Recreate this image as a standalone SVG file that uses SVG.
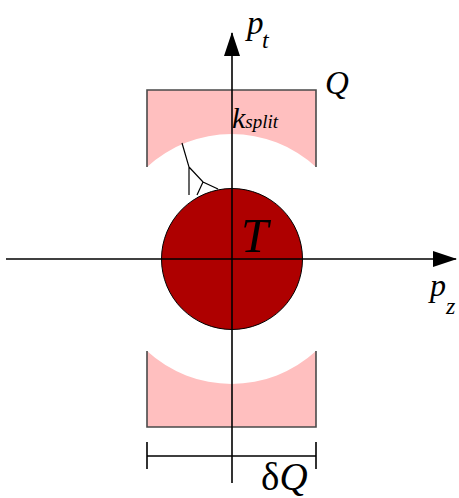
<svg xmlns="http://www.w3.org/2000/svg" width="459" height="498" viewBox="0 0 459 498">
<style>
.t{font-family:'Liberation Serif','DejaVu Serif','Noto Serif',serif;font-style:italic;fill:#000}
.u{font-family:'Liberation Serif','DejaVu Serif','Noto Serif',serif;fill:#000}
.ax{stroke:#000;stroke-width:1.6;fill:none}
.ol{stroke:#4a4a4a;stroke-width:1.6;fill:none}
.thin{stroke:#000;stroke-width:1.2;fill:none}
</style>
<defs>
<marker id="ah" markerWidth="24" markerHeight="16" refX="23" refY="8" orient="auto" markerUnits="userSpaceOnUse">
<path d="M0,0 L24,8 L0,16 Z" fill="#000"/>
</marker>
</defs>
<g id="Q">
<path d="M147,90 H316 V167 A125,125 0 0 0 147,167 Z" fill="#ffbfbf"/>
<path d="M147,427 H316 V351 A125,125 0 0 1 147,351 Z" fill="#ffbfbf"/>
<path class="ol" d="M147,167 V90 H316 V167"/>
<path class="ol" d="M147,351 V427 H316 V351"/>
<text class="t" x="325" y="94" font-size="33">Q</text>
</g>
<g id="T">
<circle cx="232" cy="259" r="70.5" fill="#ae0000" stroke="#000" stroke-width="1"/>
<text class="t" x="241" y="252" font-size="49">T</text>
</g>
<g id="ksplit">
<text class="t" x="232" y="128" font-size="30">k<tspan font-size="19">split</tspan></text>
<path class="thin" d="M182,143 L189,167 L189,195 M189,167 L203,182 L218,189 M203,182 L197,195"/>
</g>
<g id="connectors">
<line class="ax" x1="6" y1="259" x2="456" y2="259" marker-end="url(#ah)"/>
<line class="ax" x1="232" y1="483" x2="232" y2="33" marker-end="url(#ah)"/>
<path class="ax" d="M147,442 V469 M316,442 V469 M147,456 H316"/>
</g>
<g id="labels">
<text class="t" x="247" y="34" font-size="33">p</text>
<text class="t" x="262" y="48" font-size="24">t</text>
<text class="t" x="430" y="296" font-size="32">p<tspan font-size="24" dx="0" dy="18">z</tspan></text>
<text class="u" x="261" y="490" font-size="39">δ<tspan font-style="italic">Q</tspan></text>
</g>
</svg>
